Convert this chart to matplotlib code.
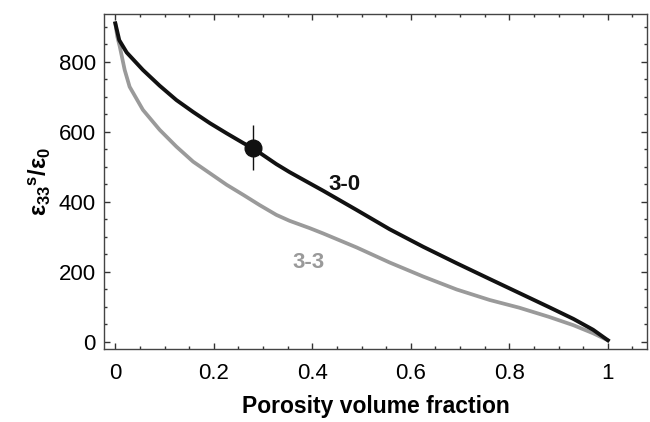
import numpy as np
import matplotlib
matplotlib.use("Agg")
import matplotlib.pyplot as plt
from matplotlib.ticker import MultipleLocator

plt.rcParams["font.family"] = ["Liberation Sans", "DejaVu Sans"]
plt.rcParams["mathtext.fontset"] = "custom"
plt.rcParams["mathtext.rm"] = "Liberation Sans:bold"

# 3-0 connectivity
x_30 = [0, 0.008, 0.023, 0.056, 0.09, 0.124, 0.158, 0.192, 0.226, 0.26, 0.28, 0.327,
        0.354, 0.395, 0.422, 0.49, 0.557, 0.625, 0.693, 0.76, 0.82, 0.88, 0.93, 0.97, 1.0]
y_30 = [910, 862, 827, 777, 732, 691, 657, 625, 596, 568, 553, 508,
        485, 453, 432, 377, 322, 272, 225, 180, 140, 100, 66, 35, 5]

# 3-3 connectivity
x_33 = [0, 0.004, 0.009, 0.019, 0.029, 0.056, 0.09, 0.124, 0.158, 0.192, 0.226, 0.26,
        0.293, 0.327, 0.354, 0.395, 0.422, 0.49, 0.557, 0.625, 0.693, 0.76, 0.82, 0.88,
        0.93, 0.97, 1.0]
y_33 = [910, 872, 844, 777, 729, 663, 606, 558, 515, 482, 449, 420,
        391, 363, 346, 325, 310, 270, 227, 187, 150, 120, 98, 72,
        48, 25, 5]

# measured point
x_meas = [0.28]
y_meas = [555]
err_meas = [65]

fig = plt.figure(figsize=(6.5, 4.22), dpi=100)
ax = fig.add_axes([0.16, 0.173, 0.835, 0.794])

ax.plot(x_33, y_33, color="#9a9a9a", lw=2.7, solid_joinstyle="round")
ax.plot(x_30, y_30, color="#111111", lw=2.8, solid_joinstyle="round")
ax.errorbar(x_meas, y_meas, yerr=err_meas, fmt="o", color="#111111",
            ms=12, elinewidth=1.0, capsize=0)

ax.text(0.466, 449, "3-0", fontsize=16, fontweight="bold", color="#111111",
        ha="center", va="center")
ax.text(0.393, 226, "3-3", fontsize=16, fontweight="bold", color="#9a9a9a",
        ha="center", va="center")

ax.set_xlim(-0.023, 1.079)
ax.set_ylim(-20, 937)
ax.set_xticks([0, 0.2, 0.4, 0.6, 0.8, 1.0])
ax.set_xticklabels(["0", "0.2", "0.4", "0.6", "0.8", "1"])
ax.set_yticks([0, 200, 400, 600, 800])
ax.xaxis.set_minor_locator(MultipleLocator(0.05))
ax.yaxis.set_minor_locator(MultipleLocator(50))
ax.tick_params(which="both", direction="in", top=True, right=True,
               labelsize=16, width=1.0, color="#333333")
ax.tick_params(which="major", length=4)
ax.tick_params(which="minor", length=2)
ax.tick_params(axis="x", which="major", pad=10)
ax.tick_params(axis="y", which="major", pad=6)
for s in ax.spines.values():
    s.set_color("#444444")
    s.set_linewidth(1.0)

ax.set_xlabel("Porosity volume fraction", fontsize=16.5, fontweight="bold", labelpad=8)
ax.set_ylabel(r"$\mathrm{ε_{33}}^{\mathrm{s}}/\mathrm{ε_{0}}$", fontsize=17, labelpad=4)

fig.savefig("out.png", dpi=100)
